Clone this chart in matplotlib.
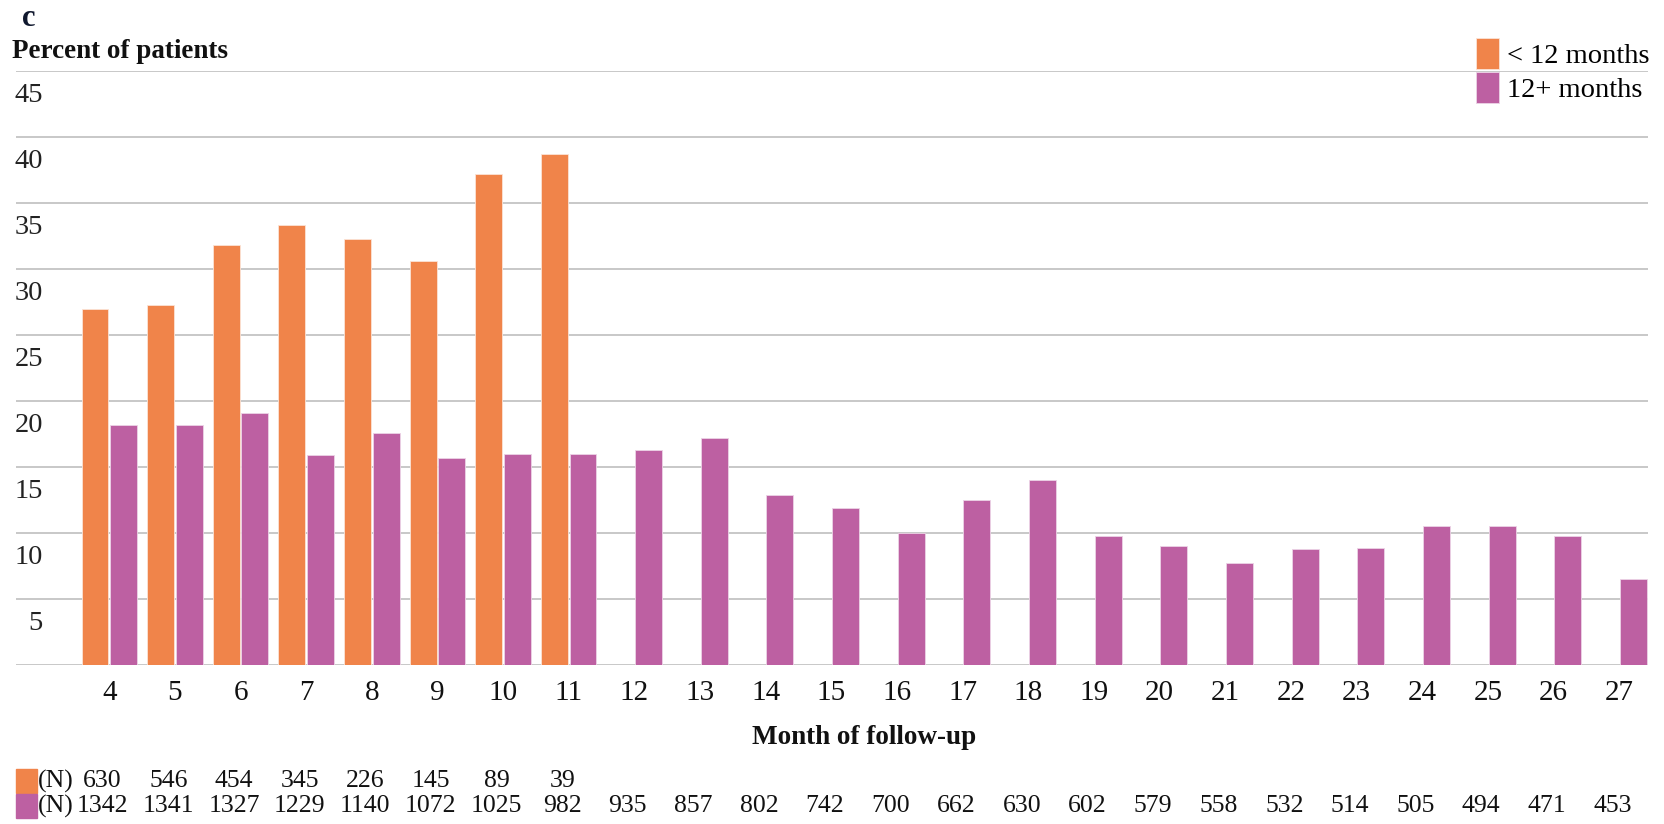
import matplotlib
matplotlib.use("Agg")
import matplotlib.pyplot as plt
import matplotlib.transforms as mtransforms
import numpy as np

months = list(range(4, 28))
under12 = [27.0, 27.3, 31.8, 33.3, 32.3, 30.6, 37.2, 38.7]
over12 = [18.2, 18.2, 19.1, 15.9, 17.6, 15.7, 16.0, 16.0, 16.3, 17.2, 12.9, 11.9,
          10.0, 12.5, 14.0, 9.8, 9.0, 7.7, 8.8, 8.9, 10.5, 10.5, 9.8, 6.5]
n_under12 = [630, 546, 454, 345, 226, 145, 89, 39]
n_over12 = [1342, 1341, 1327, 1229, 1140, 1072, 1025, 982, 935, 857, 802, 742,
            700, 662, 630, 602, 579, 558, 532, 514, 505, 494, 471, 453]
yticks = list(range(0, 50, 5))
labels = ["< 12 months", "12+ months"]

orange = "#F0844A"
purple = "#BD60A2"
grid_c = "#c8c8c8"

plt.rcParams["font.family"] = ["Liberation Serif", "DejaVu Serif"]

W, H = 1665, 824
fig = plt.figure(figsize=(W / 100, H / 100), dpi=100)
ax = fig.add_axes([16 / W, 1 - 665 / H, (1648 - 16) / W, (665 - 71) / H])

x = np.arange(len(months))
bw = 0.41
off = 0.217
b1 = ax.bar(x[:len(under12)] - off, under12, bw, color=orange, edgecolor="#fbe3d6", linewidth=0.6, zorder=3)
b2 = ax.bar(x + off, over12, bw, color=purple, edgecolor="#ecd3e6", linewidth=0.6, zorder=3)

ax.set_xlim(-1.42, len(months) - 1 + 0.44)
ax.set_ylim(0, 45)
ax.set_yticks(yticks)
ax.set_yticklabels([])
ax.grid(axis="y", color=grid_c, linewidth=1.4, zorder=0)
ax.set_axisbelow(True)
for s in ["top", "right", "left", "bottom"]:
    ax.spines[s].set_visible(False)
ax.tick_params(axis="y", length=0)
ax.tick_params(axis="x", length=0, pad=11, labelsize=21, labelcolor="#111111")
ax.set_xticks(x)
ax.set_xticklabels([str(m) for m in months])

# y labels sit a bit below their gridlines in the original
ytr = mtransforms.blended_transform_factory(ax.transAxes, ax.transData) + \
    mtransforms.ScaledTranslation(0, -0.24, fig.dpi_scale_trans)
for v in yticks[1:]:
    ax.text(27 / (1648 - 16), v, str(v), transform=ytr, ha="right", va="center",
            fontsize=20.5, color="#222222")

fig.text(22 / W, 1 - 18 / H, "c", fontsize=22, fontweight="bold", va="center", color="#10182e")
fig.text(12 / W, 1 - 51 / H, "Percent of patients", fontsize=19.5, fontweight="bold",
         va="center", color="#111111")
fig.text(864 / W, 1 - 737 / H, "Month of follow-up", fontsize=19.5, fontweight="bold",
         ha="center", va="center", color="#111111")

ax.legend([b1, b2], labels, loc="upper right", bbox_to_anchor=(1650 / W, 1 - 38 / H),
          bbox_transform=fig.transFigure, frameon=False, fontsize=20.5,
          handlelength=0.8, handleheight=1.3, handletextpad=0.3, labelspacing=0.1,
          borderaxespad=0, borderpad=0)

# N rows below the chart
ntr = mtransforms.blended_transform_factory(ax.transData, fig.transFigure)
for row, (vals, col, yy) in enumerate([(n_under12, orange, 781), (n_over12, purple, 806)]):
    fig.patches.append(plt.Rectangle((16 / W, 1 - (yy + 12) / H), 21 / W, 24 / H,
                                     transform=fig.transFigure, color=col))
    fig.text(38 / W, 1 - yy / H, "(N)", fontsize=18.5, va="center", color="#111111")
    for i, n in enumerate(vals):
        ax.text(x[i] - 0.1, 1 - yy / H, str(n), transform=ntr, ha="center", va="center",
                fontsize=18.5, color="#111111")

fig.savefig("out.png", dpi=100)
